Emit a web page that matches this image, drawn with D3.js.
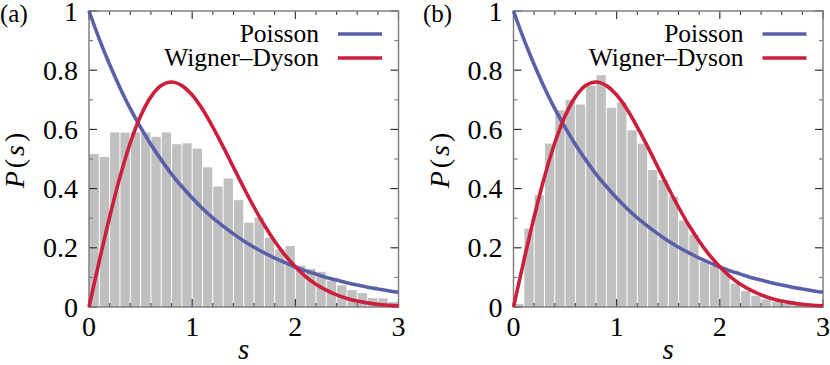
<!DOCTYPE html>
<html><head><meta charset="utf-8">
<script src="https://cdn.jsdelivr.net/npm/d3@7"></script>
<style>body{margin:0;background:#fff}svg{display:block}</style>
</head><body><svg id="c" width="830" height="365" font-family="'Liberation Serif', 'Times New Roman', serif"></svg>
<script>
// ---- data ----
const binStart = [0,0.1,0.2,0.3,0.4,0.5,0.6,0.7,0.8,0.9,1.0,1.1,1.2,1.3,1.4,1.5,1.6,1.7,1.8,1.9,2.0,2.1,2.2,2.3,2.4,2.5,2.6,2.7,2.8,2.9];
const binWidth = 0.1;
const histA = [0.517,0.507,0.590,0.589,0.590,0.590,0.575,0.590,0.550,0.553,0.535,0.472,0.407,0.434,0.361,0.285,0.302,0.234,0.194,0.206,0.140,0.129,0.119,0.089,0.073,0.057,0.047,0.030,0.029,0.017];
const histB = [0.010,0.265,0.378,0.552,0.665,0.700,0.684,0.747,0.783,0.673,0.691,0.597,0.552,0.463,0.429,0.373,0.292,0.245,0.153,0.138,0.127,0.079,0.054,0.038,0.026,0.017,0.011,0.006,0.004,0.003];
const curveS = [0,0.1,0.2,0.3,0.4,0.5,0.6,0.7,0.8,0.9,1.0,1.1,1.2,1.3,1.4,1.5,1.6,1.7,1.8,1.9,2.0,2.1,2.2,2.3,2.4,2.5,2.6,2.7,2.8,2.9,3.0];
const poisson = [1,0.905,0.819,0.741,0.670,0.607,0.549,0.497,0.449,0.407,0.368,0.333,0.301,0.273,0.247,0.223,0.202,0.183,0.165,0.150,0.135,0.122,0.111,0.100,0.091,0.082,0.074,0.067,0.061,0.055,0.050];
const wigner = [0,0.156,0.304,0.439,0.554,0.645,0.710,0.748,0.760,0.748,0.716,0.668,0.608,0.542,0.472,0.403,0.337,0.276,0.222,0.175,0.136,0.103,0.077,0.057,0.041,0.029,0.020,0.014,0.009,0.006,0.004];
const yTickLabels = ["0","0.2","0.4","0.6","0.8","1"];
const yTickVals = [0,0.2,0.4,0.6,0.8,1];
const xTickLabels = ["0","1","2","3"];
const xTickVals = [0,1,2,3];
const seriesNames = ["Poisson","Wigner–Dyson"];
const panelLabels = ["(a)","(b)"];

const colBlue = "#5a60a8", colRed = "#cc1f3d";
const svg = d3.select("#c");
const panels = [{left:89, hist:histA, lab:panelLabels[0], labX:0},{left:513.5, hist:histB, lab:panelLabels[1], labX:423}];
const plotW = 309.5, plotTop = 11, plotBottom = 307;

panels.forEach(p => {
  const x = d3.scaleLinear().domain([0,3]).range([p.left, p.left+plotW]);
  const y = d3.scaleLinear().domain([0,1]).range([plotBottom, plotTop]);
  const g = svg.append("g");
  // bars
  g.selectAll("rect.bar").data(binStart).join("rect")
    .attr("x", d => x(d)+0.5).attr("width", d => x(d+binWidth)-x(d)-1)
    .attr("y", (d,i) => y(p.hist[i])).attr("height", (d,i) => y(0)-y(p.hist[i]))
    .attr("fill","#c0c0c0");
  // ticks
  const tk = g.append("g").attr("stroke-width",1.1);
  d3.range(0,11).forEach(i => {
    const v = i/10, major = i%2===0, len = major?8:4, c = major?"#222":"#777";
    tk.append("line").attr("stroke",c).attr("x1",x(0)).attr("x2",x(0)+len).attr("y1",y(v)).attr("y2",y(v));
    tk.append("line").attr("stroke",c).attr("x1",x(3)).attr("x2",x(3)-len).attr("y1",y(v)).attr("y2",y(v));
  });
  d3.range(0,16).forEach(i => {
    const v = i/5, major = i%5===0, len = major?8:4, c = major?"#222":"#444";
    tk.append("line").attr("stroke",c).attr("x1",x(v)).attr("x2",x(v)).attr("y1",y(0)).attr("y2",y(0)-len);
    tk.append("line").attr("stroke",c).attr("x1",x(v)).attr("x2",x(v)).attr("y1",y(1)).attr("y2",y(1)+len);
  });
  // frame
  g.append("rect").attr("x",x(0)).attr("y",y(1)).attr("width",x(3)-x(0)).attr("height",y(0)-y(1))
    .attr("fill","none").attr("stroke","#808080").attr("stroke-width",1.5);
  // curves
  const line = d3.line().x((d,i)=>x(curveS[i])).y(d=>y(d)).curve(d3.curveCatmullRom);
  g.append("path").attr("d",line(poisson)).attr("fill","none").attr("stroke",colBlue).attr("stroke-width",3.6);
  g.append("path").attr("d",line(wigner)).attr("fill","none").attr("stroke",colRed).attr("stroke-width",3.6);
  // tick labels
  g.selectAll("text.yl").data(yTickVals).join("text")
    .attr("x", x(0)-11).attr("y", d=>y(d)+9.5).attr("text-anchor","end").attr("font-size",28)
    .text((d,i)=>yTickLabels[i]);
  g.selectAll("text.xl").data(xTickVals).join("text")
    .attr("x", d=>x(d)).attr("y", 336).attr("text-anchor","middle").attr("font-size",28)
    .text((d,i)=>xTickLabels[i]);
  // axis titles
  g.append("text").attr("x",(x(0)+x(3))/2).attr("y",359).attr("text-anchor","middle")
    .attr("font-size",29).attr("font-style","italic").text("s");
  const yt = g.append("text").attr("transform",`translate(${p.left-65},159) rotate(-90)`)
    .attr("text-anchor","middle").attr("font-size",28).attr("letter-spacing",3);
  yt.append("tspan").attr("font-style","italic").text("P");
  yt.append("tspan").text("(");
  yt.append("tspan").attr("font-style","italic").text("s");
  yt.append("tspan").text(")");
  // panel label
  g.append("text").attr("x",p.labX).attr("y",22).attr("font-size",25).text(p.lab);
  // legend
  const cols = [colBlue,colRed];
  seriesNames.forEach((n,i) => {
    const ly = 34 + i*24;
    g.append("text").attr("x",p.left+230).attr("y",ly+8).attr("text-anchor","end").attr("font-size",25.5).text(n);
    g.append("line").attr("x1",p.left+249).attr("x2",p.left+293).attr("y1",ly).attr("y2",ly)
      .attr("stroke",cols[i]).attr("stroke-width",3.6);
  });
});
</script></body></html>
